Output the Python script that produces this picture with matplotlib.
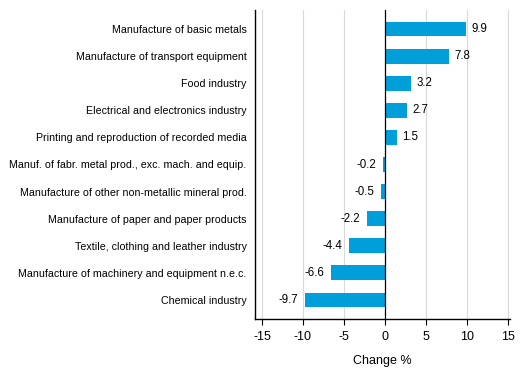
import matplotlib
matplotlib.use("Agg")
import matplotlib.pyplot as plt

categories = [
    "Manufacture of basic metals",
    "Manufacture of transport equipment",
    "Food industry",
    "Electrical and electronics industry",
    "Printing and reproduction of recorded media",
    "Manuf. of fabr. metal prod., exc. mach. and equip.",
    "Manufacture of other non-metallic mineral prod.",
    "Manufacture of paper and paper products",
    "Textile, clothing and leather industry",
    "Manufacture of machinery and equipment n.e.c.",
    "Chemical industry",
]
values = [9.9, 7.8, 3.2, 2.7, 1.5, -0.2, -0.5, -2.2, -4.4, -6.6, -9.7]
xticks = [-15, -10, -5, 0, 5, 10, 15]

plt.rcParams['font.family'] = ['Liberation Sans', 'DejaVu Sans']
fig = plt.figure(figsize=(5.29, 3.78), dpi=100)
ax = fig.add_axes([255/529, 1 - 319/378, (510-255)/529, (319-10)/378])

n = len(categories)
pos = list(range(n))
color = "#009FDA"
ax.barh(pos, values, height=0.55, color=color, zorder=3)
for p, v in zip(pos, values):
    if v >= 0:
        ax.annotate(f"{v:.1f}", (v, p), xytext=(3.8, 0), textcoords="offset points",
                    va="center", ha="left", fontsize=8.3)
    else:
        ax.annotate(f"{v:.1f}", (v, p), xytext=(-5, 0), textcoords="offset points",
                    va="center", ha="right", fontsize=8.3)

ax.set_xlim(-15.85, 15.25)
ax.set_ylim(n - 1 + 0.7, -0.7)
ax.set_yticks(pos)
ax.set_yticklabels(categories, fontsize=7.65)
ax.tick_params(axis="y", length=0, pad=6)
ax.set_xticks(xticks)
ax.set_xticklabels([str(t) for t in xticks], fontsize=9)
ax.tick_params(axis="x", length=4, width=0.8, color="black", pad=5)
for t in xticks:
    if t != 0:
        ax.axvline(t, color="#d9d9d9", lw=0.8, zorder=1)
ax.axvline(0, color="black", lw=0.9, zorder=4)
ax.spines["top"].set_visible(False)
ax.spines["right"].set_visible(False)
ax.spines["left"].set_linewidth(1.0)
ax.spines["bottom"].set_linewidth(1.0)
ax.set_xlabel("Change %", fontsize=9, labelpad=8)

fig.savefig("out.png", dpi=100)
